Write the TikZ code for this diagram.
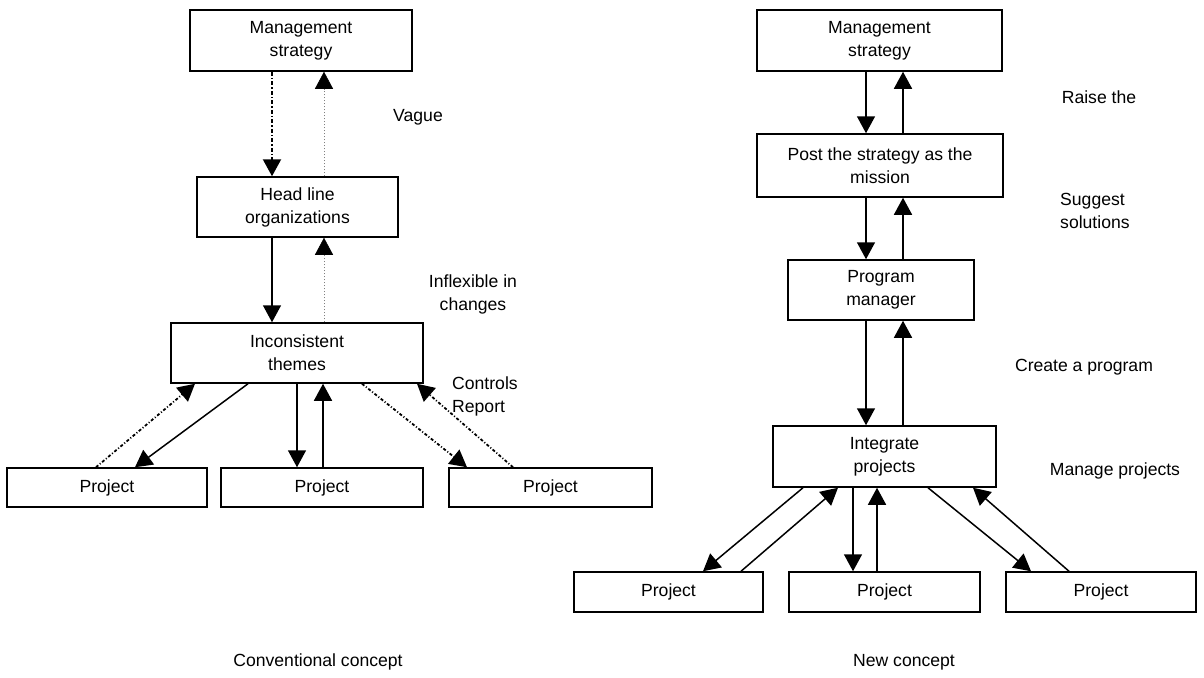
\documentclass[tikz,border=0pt]{standalone}
\usepackage{fontspec}
\setmainfont{Liberation Sans}
\usetikzlibrary{arrows.meta}

\begin{document}
\begin{tikzpicture}[x=1pt, y=-1pt,
	box/.style={draw, line width=1.5pt, inner sep=0pt, align=center, font=\fontsize{17.6}{23}\selectfont},
	lbl/.style={inner sep=0pt, align=center, font=\fontsize{17.6}{23}\selectfont},
	arr/.style={line width=1.5pt, -{Triangle[length=17pt,width=18pt,color=black]}},
	heavydot/.style={arr, line width=2.2pt, dash pattern=on 4pt off 2pt on 1.5pt off 2pt},
	dashdot/.style={arr, line width=1.8pt, dash pattern=on 3pt off 2pt on 1pt off 2pt},
	faintdot/.style={arr, line width=0.6pt, draw=gray, dash pattern=on 1pt off 2pt}]
	
	\useasboundingbox (0,0) rectangle (1204,677);
	
	% Columns for the vertical arrows
	\coordinate (lc1) at (272,0);
	\coordinate (lc2) at (324,0);
	\coordinate (lc3) at (297,0);
	\coordinate (lc4) at (323,0);
	\coordinate (rc1) at (866,0);
	\coordinate (rc2) at (903,0);
	\coordinate (rc3) at (853,0);
	\coordinate (rc4) at (877,0);
	
	% Conventional concept: boxes
	\node[box, minimum width=222pt, minimum height=61pt] (ms1) at (301,40.5) {Management\\strategy};
	\node[box, minimum width=201pt, minimum height=60pt] (hl) at (297.5,207) {Head line\\organizations};
	\node[box, minimum width=252pt, minimum height=60pt] (th) at (297,353) {Inconsistent\\themes};
	\node[box, minimum width=200pt, minimum height=39pt] (pa1) at (107,487.5) {Project};
	\node[box, minimum width=202pt, minimum height=39pt] (pa2) at (322,487.5) {Project};
	\node[box, minimum width=203pt, minimum height=39pt] (pa3) at (550.5,487.5) {Project};
	
	% Conventional concept: arrows
	\draw[heavydot] (ms1.south -| lc1) -- (hl.north -| lc1);
	\draw[faintdot] (hl.north -| lc2) -- (ms1.south -| lc2);
	\draw[arr] (hl.south -| lc1) -- (th.north -| lc1);
	\draw[faintdot] (th.north -| lc2) -- (hl.south -| lc2);
	\draw[arr] ([xshift=-49pt]th.south) -- ([xshift=28pt]pa1.north);
	\draw[dashdot] ([xshift=-11pt]pa1.north) -- ([xshift=-102pt]th.south);
	\draw[arr] (th.south -| lc3) -- (pa2.north -| lc3);
	\draw[arr] (pa2.north -| lc4) -- (th.south -| lc4);
	\draw[dashdot] ([xshift=65pt]th.south) -- ([xshift=-83.5pt]pa3.north);
	\draw[dashdot] ([xshift=-37.5pt]pa3.north) -- ([xshift=120pt]th.south);
	
	% Conventional concept: labels
	\node[lbl] (vague) at (418,117) {Vague};
	\node[lbl] (inflex) at (473,294) {Inflexible in\\changes};
	\node[lbl, anchor=west, align=left] (ctrl) at (452,396) {Controls\\Report};
	\node[lbl] (conv) at (318,662) {Conventional concept};
	
	% New concept: boxes
	\node[box, minimum width=245pt, minimum height=61pt] (ms2) at (879.5,40.5) {Management\\strategy};
	\node[box, minimum width=246pt, minimum height=63pt] (post) at (880,165.5) {Post the strategy as the\\mission};
	\node[box, minimum width=186pt, minimum height=60pt] (pm) at (881,290) {Program\\manager};
	\node[box, minimum width=223pt, minimum height=61pt] (ip) at (884.5,456.5) {Integrate\\projects};
	\node[box, minimum width=189pt, minimum height=40pt] (pb1) at (668.5,592) {Project};
	\node[box, minimum width=191pt, minimum height=40pt] (pb2) at (884.5,592) {Project};
	\node[box, minimum width=190pt, minimum height=40pt] (pb3) at (1101,592) {Project};
	
	% New concept: arrows
	\draw[arr] (ms2.south -| rc1) -- (post.north -| rc1);
	\draw[arr] (post.north -| rc2) -- (ms2.south -| rc2);
	\draw[arr] (post.south -| rc1) -- (pm.north -| rc1);
	\draw[arr] (pm.north -| rc2) -- (post.south -| rc2);
	\draw[arr] (pm.south -| rc1) -- (ip.north -| rc1);
	\draw[arr] (ip.north -| rc2) -- (pm.south -| rc2);
	\draw[arr] ([xshift=-81.5pt]ip.south) -- ([xshift=34.5pt]pb1.north);
	\draw[arr] ([xshift=72.5pt]pb1.north) -- ([xshift=-46.5pt]ip.south);
	\draw[arr] (ip.south -| rc3) -- (pb2.north -| rc3);
	\draw[arr] (pb2.north -| rc4) -- (ip.south -| rc4);
	\draw[arr] ([xshift=43.5pt]ip.south) -- ([xshift=-70pt]pb3.north);
	\draw[arr] ([xshift=-32pt]pb3.north) -- ([xshift=88.5pt]ip.south);
	
	% New concept: labels
	\node[lbl] (raise) at (1099,97) {Raise the};
	\node[lbl, anchor=west, align=left] (suggest) at (1060,211) {Suggest\\solutions};
	\node[lbl] (create) at (1084,367) {Create a program};
	\node[lbl] (manage) at (1115,471) {Manage projects};
	\node[lbl] (newc) at (904,662) {New concept};
	
\end{tikzpicture}
\end{document}
